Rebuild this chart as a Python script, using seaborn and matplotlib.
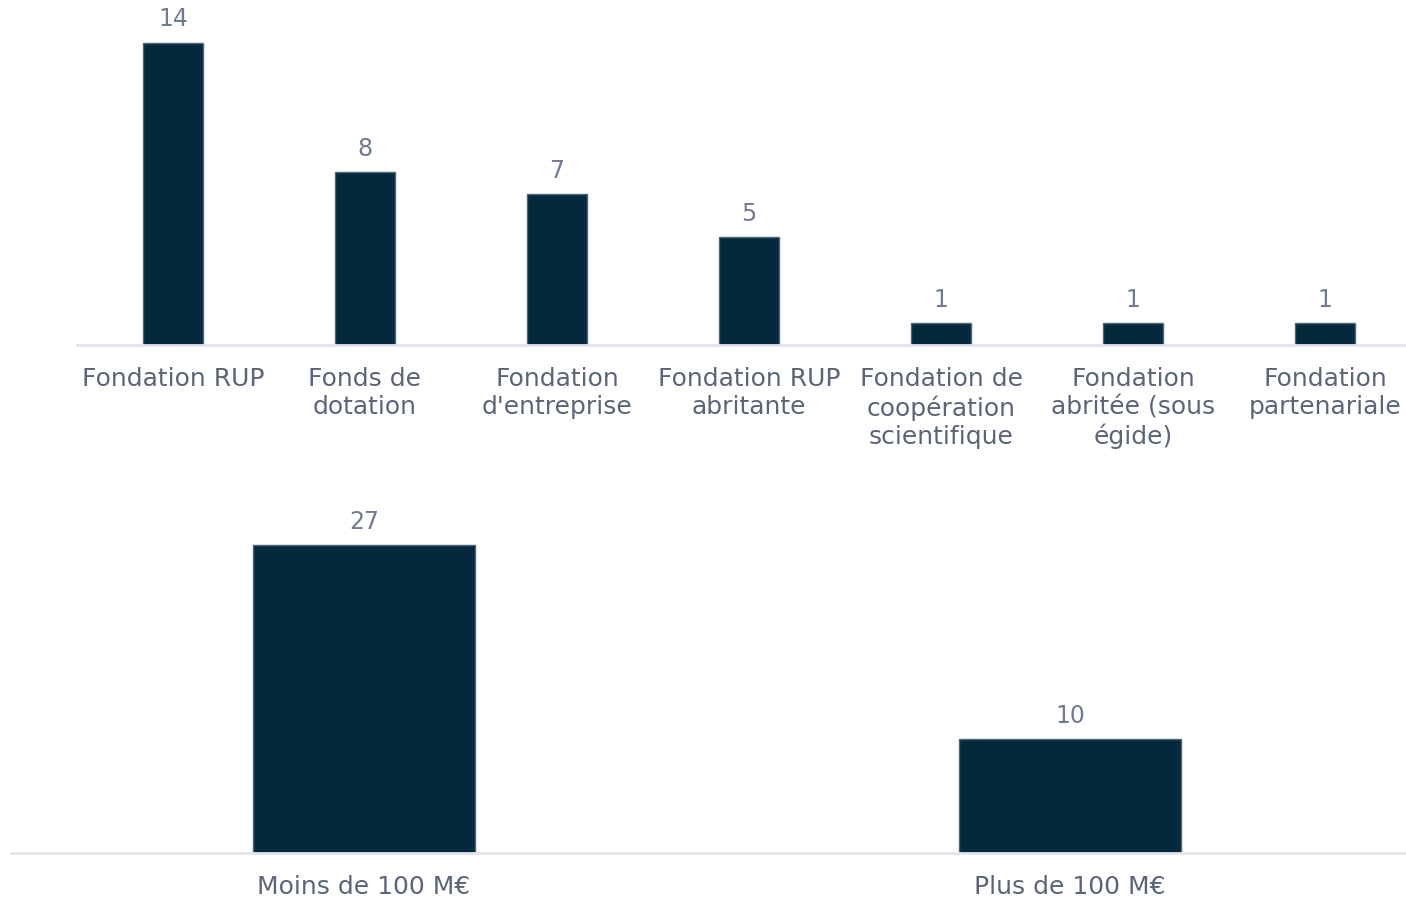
import matplotlib
matplotlib.use("Agg")
import matplotlib.pyplot as plt
import seaborn as sns
import pandas as pd

# Répartition par statut juridique
statuts = [
    "Fondation RUP",
    "Fonds de\ndotation",
    "Fondation\nd'entreprise",
    "Fondation RUP\nabritante",
    "Fondation de\ncoopération\nscientifique",
    "Fondation\nabritée (sous\négide)",
    "Fondation\npartenariale",
]
nb_statut = [14, 8, 7, 5, 1, 1, 1]

# Répartition par taille d'actifs
tailles = ["Moins de 100 M€", "Plus de 100 M€"]
nb_taille = [27, 10]

BAR = "#03293c"
EDGE = "#50677a"
BASE = "#e1e4ea"
TICK = "#5b6579"
VALUE = "#6f7b90"

sns.set_theme(style="white")
plt.rcParams["font.family"] = ["DejaVu Sans"]

W, H = 1406, 897
fig = plt.figure(figsize=(W / 100, H / 100), dpi=100)


def frame(left, bottom_px, right, top_px):
    return [left / W, 1 - bottom_px / H, (right - left) / W, (bottom_px - top_px) / H]


def draw(ax, cats, vals, ymax, width, fs, vfs):
    df = pd.DataFrame({"cat": cats, "val": vals})
    sns.barplot(data=df, x="cat", y="val", color=BAR, width=width,
                edgecolor=EDGE, linewidth=1, saturation=1, ax=ax)
    ax.set_ylim(0, ymax)
    ax.set_xlim(-0.5, len(cats) - 0.5)
    for c in ax.containers:
        ax.bar_label(c, labels=[str(v) for v in vals], padding=8,
                     color=VALUE, fontsize=vfs)
    for s in ["top", "right", "left"]:
        ax.spines[s].set_visible(False)
    ax.spines["bottom"].set_color(BASE)
    ax.spines["bottom"].set_linewidth(2)
    ax.set_yticks([])
    ax.set_xlabel("")
    ax.set_ylabel("")
    ax.tick_params(axis="x", length=0, pad=16, labelsize=fs, labelcolor=TICK)
    for t in ax.get_xticklabels():
        t.set_multialignment("center")
        t.set_linespacing(1.22)


ax1 = fig.add_axes(frame(77, 345, 77 + 7 * 192, 0))
draw(ax1, statuts, nb_statut, 345 / 21.6, 0.31, 18, 17)

ax2 = fig.add_axes(frame(11, 853, 11 + 2 * 706, 475))
draw(ax2, tailles, nb_taille, 378 / 11.4, 0.314, 18, 17)

fig.savefig("out.png", dpi=100)
